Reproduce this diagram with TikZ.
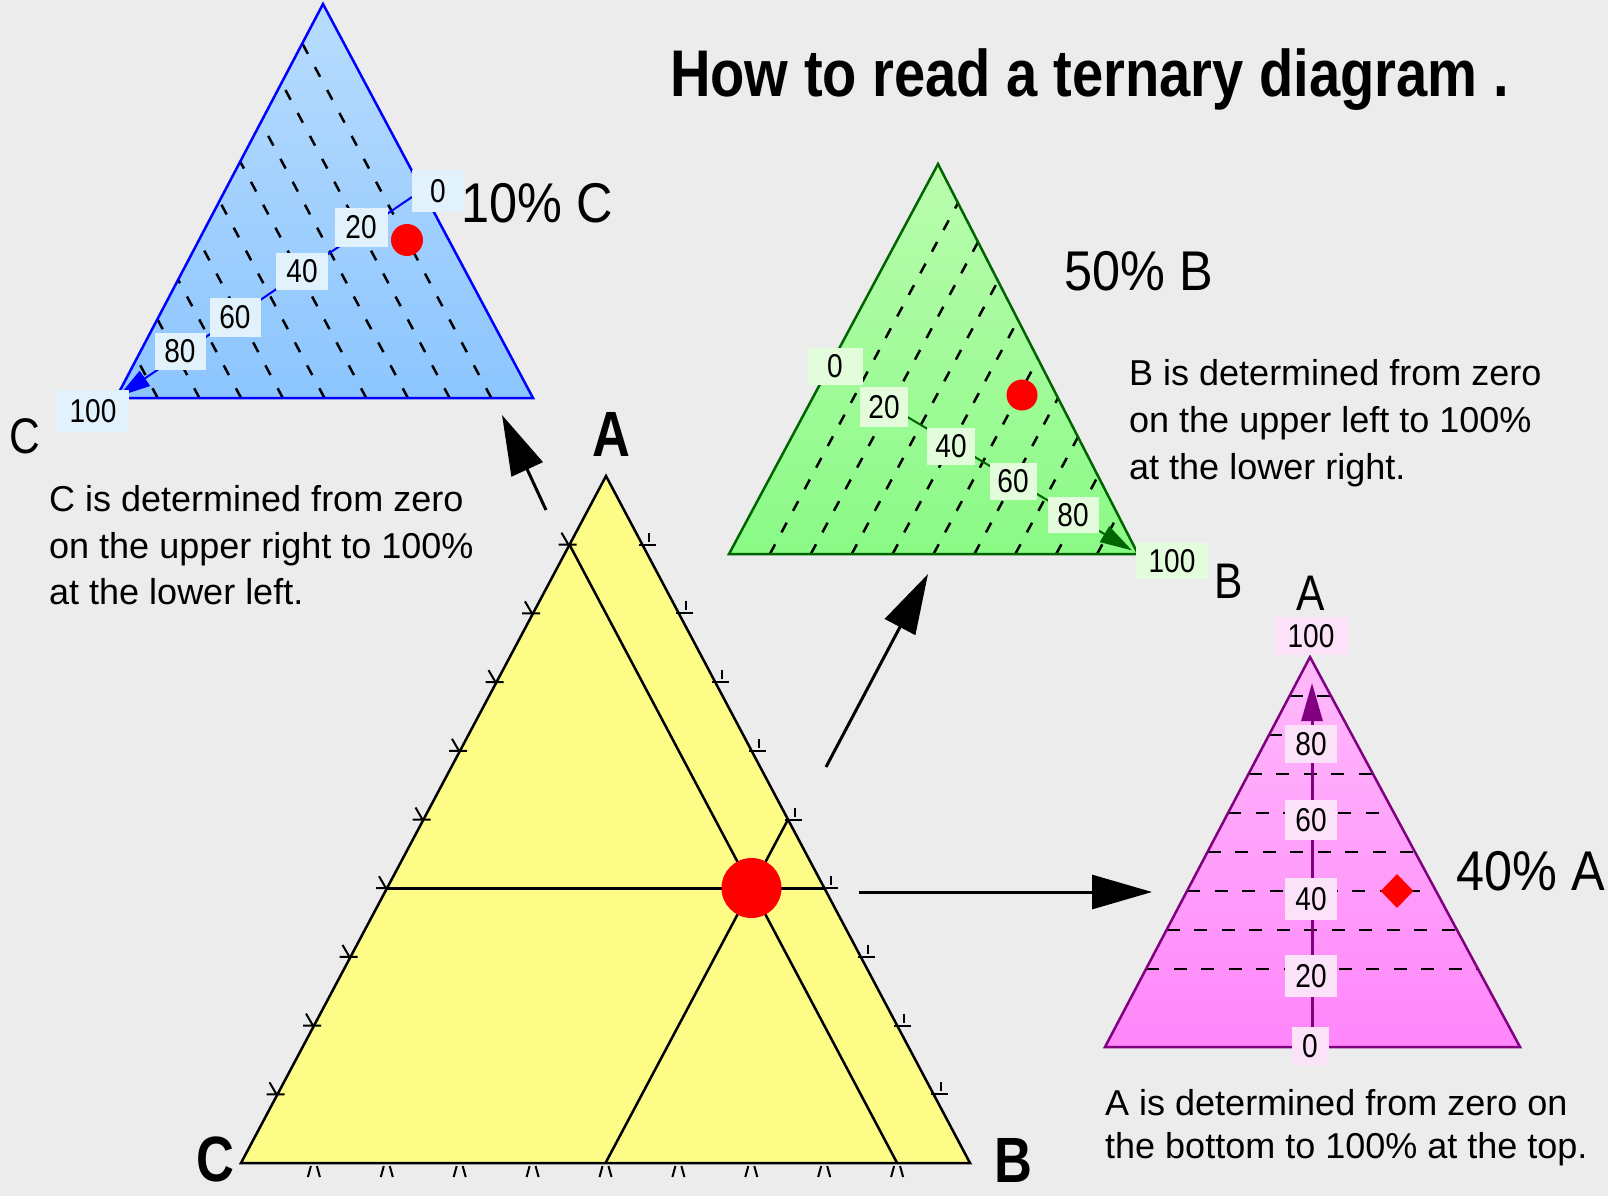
\documentclass[tikz,border=0pt]{standalone}
\usepackage{fontspec}
\setmainfont{Liberation Sans}
\newfontfamily\narrowsans[FakeStretch=0.85]{Liberation Sans}
\newfontfamily\pctsans[FakeStretch=0.9]{Liberation Sans}
\newfontfamily\slimsans[FakeStretch=0.82]{Liberation Sans}
\usetikzlibrary{arrows.meta,calc,shapes.geometric}
\definecolor{bgc}{RGB}{236,236,236}
\definecolor{blueTop}{RGB}{184,220,253}
\definecolor{blueBot}{RGB}{140,197,254}
\definecolor{blueLab}{RGB}{226,242,252}
\definecolor{blueEdge}{RGB}{0,0,255}
\definecolor{greenTop}{RGB}{186,252,174}
\definecolor{greenBot}{RGB}{138,250,134}
\definecolor{greenEdge}{RGB}{0,100,0}
\definecolor{greenLab}{RGB}{226,252,220}
\definecolor{pinkTop}{RGB}{255,186,252}
\definecolor{pinkBot}{RGB}{255,134,250}
\definecolor{pinkLab}{RGB}{252,226,248}
\definecolor{purpleEdge}{RGB}{128,0,128}
\definecolor{yel}{RGB}{253,252,135}
\definecolor{redDot}{RGB}{255,0,0}
\tikzset{
  lbl/.style={inner sep=0pt, font=\narrowsans\fontsize{33}{33}\selectfont},
  lblb/.style={lbl, fill=blueLab},
  lblg/.style={lbl, fill=greenLab},
  lblp/.style={lbl, fill=pinkLab},
  reddot/.style={circle, fill=redDot, inner sep=0pt},
  para/.style={anchor=base west, inner sep=0pt, font=\fontsize{36}{40}\selectfont},
  pct/.style={anchor=base west, inner sep=0pt, font=\pctsans\fontsize{56}{60}\selectfont},
  lightlet/.style={inner sep=0pt, font=\narrowsans\fontsize{50}{54}\selectfont},
  boldlet/.style={inner sep=0pt, font=\slimsans\bfseries\fontsize{64}{66}\selectfont},
  bigarrow/.style={line width=3pt, -{Triangle[length=60pt,width=34pt]}},
  ytick/.style={line width=2pt},
  cdash/.style={line width=2.5pt, dash pattern=on 11pt off 15pt},
  bdash/.style={line width=2.5pt, dash pattern=on 11pt off 13.5pt},
  adash/.style={line width=2.5pt, dash pattern=on 13pt off 14.5pt},
}
\begin{document}
\begin{tikzpicture}[x=1pt,y=-1pt]
\useasboundingbox (0,0) rectangle (1608,1196);
\fill[bgc] (0,0) rectangle (1608,1196);

% ---------------- blue triangle (C) ----------------
\coordinate (bC) at (116,398);
\coordinate (bR) at (533,398);
\coordinate (bA) at (323,4);
\shade[top color=blueTop, bottom color=blueBot] (bC) -- (bR) -- (bA) -- cycle;
\foreach \i in {1,...,9}{
  \draw[cdash] ($(bC)!\i/10!(bR)$) -- ($(bC)!\i/10!(bA)$);
}
\draw[blueEdge, line width=2.5pt, line join=miter] (bC) -- (bR) -- (bA) -- cycle;
\coordinate (b0) at (412,197);
\draw[blueEdge, line width=2pt, -{Triangle[length=32pt,width=18pt]}, shorten >=3pt] (b0) -- (bC);
\node[lblb, minimum width=52, minimum height=42] (bl0) at (438,191) {0};
\node[lblb, minimum width=53, minimum height=39] (bl20) at (361,227) {20};
\node[lblb, minimum width=52, minimum height=37] (bl40) at (302,271) {40};
\node[lblb, minimum width=51, minimum height=39] (bl60) at (235,317) {60};
\node[lblb, minimum width=51, minimum height=37] (bl80) at (180,351) {80};
\node[lblb, minimum width=72, minimum height=42] (bl100) at (93,411) {100};
\node[reddot, minimum size=32] (bdot) at (407,240) {};
\node[pct] (tenC) at (461,222) {10\% C};
\node[lightlet, anchor=base west] (labC) at (9,453) {C};

% ---------------- green triangle (B) ----------------
\coordinate (gL) at (729,554);
\coordinate (gR) at (1138,554);
\coordinate (gA) at (938,164);
\shade[top color=greenTop, bottom color=greenBot] (gL) -- (gR) -- (gA) -- cycle;
\foreach \i in {1,...,9}{
  \draw[bdash] ($(gL)!\i/10!(gR)$) -- ($(gA)!\i/10!(gR)$);
}
\draw[greenEdge, line width=2.5pt, line join=miter] (gL) -- (gR) -- (gA) -- cycle;
\coordinate (g0) at (862,390);
\draw[greenEdge, line width=2pt, -{Triangle[length=32pt,width=18pt]}, shorten >=7pt] (g0) -- (gR);
\node[lblg, minimum width=55, minimum height=37] (gl0) at (835,366) {0};
\node[lblg, minimum width=48, minimum height=40] (gl20) at (884,407) {20};
\node[lblg, minimum width=48, minimum height=37] (gl40) at (951,446) {40};
\node[lblg, minimum width=47, minimum height=37] (gl60) at (1013,481) {60};
\node[lblg, minimum width=51, minimum height=36] (gl80) at (1073,515) {80};
\node[lblg, minimum width=72, minimum height=36] (gl100) at (1172,561) {100};
\node[reddot, minimum size=31] (gdot) at (1022,395) {};
\node[pct] (fiftyB) at (1064,290) {50\% B};
\node[lightlet, anchor=base west] (labB) at (1214,598) {B};
\node[para] (bt1) at (1129,385) {B is determined from zero};
\node[para] (bt2) at (1129,432) {on the upper left to 100\%};
\node[para] (bt3) at (1129,479) {at the lower right.};

% ---------------- pink triangle (A) ----------------
\coordinate (pL) at (1105,1047);
\coordinate (pR) at (1520,1047);
\coordinate (pA) at (1310,657);
\shade[top color=pinkTop, bottom color=pinkBot] (pL) -- (pR) -- (pA) -- cycle;
\foreach \k in {2,...,9}{
  \draw[adash] ($(pL)!\k/10!(pA)$) -- ($(pR)!\k/10!(pA)$);
}
\draw[purpleEdge, line width=2.5pt, line join=miter] (pL) -- (pR) -- (pA) -- cycle;
\coordinate (p0) at (1312,1047);
\coordinate (p100) at (1312,683);
\draw[purpleEdge, line width=3pt, -{Triangle[length=38pt,width=21pt]}] (p0) -- (p100);
\node[lblp, minimum width=75, minimum height=38] (pl100) at (1311,636) {100};
\node[lblp, minimum width=52, minimum height=38] (pl80) at (1311,744) {80};
\node[lblp, minimum width=52, minimum height=40] (pl60) at (1311,820) {60};
\node[lblp, minimum width=52, minimum height=42] (pl40) at (1311,899) {40};
\node[lblp, minimum width=52, minimum height=42] (pl20) at (1311,976) {20};
\node[lblp, minimum width=37, minimum height=38] (pl0) at (1310,1046) {0};
\node[diamond, fill=redDot, inner sep=0pt, minimum width=33, minimum height=34] (pdot) at (1397,891) {};
\node[pct] (fortyA) at (1456,890) {40\% A};
\node[lightlet, anchor=base] (labA) at (1311,610) {A};
\node[para] (at1) at (1105,1115) {A is determined from zero on};
\node[para] (at2) at (1105,1158) {the bottom to 100\% at the top.};

% ---------------- yellow triangle ----------------
\coordinate (yC) at (241,1163);
\coordinate (yB) at (970,1163);
\coordinate (yA) at (606,476);
\fill[yel] (yC) -- (yB) -- (yA) -- cycle;
\draw[line width=3pt] ($(yC)!0.4!(yA)$) -- ($(yB)!0.4!(yA)$);
\draw[line width=2.5pt] ($(yA)!0.1!(yC)$) -- ($(yB)!0.1!(yC)$);
\draw[line width=2.5pt] ($(yC)!0.5!(yB)$) -- ($(yA)!0.5!(yB)$);
\draw[line width=2.5pt, line join=miter] (yC) -- (yB) -- (yA) -- cycle;
\foreach \k in {1,...,9}{
  \coordinate (tl) at ($(yC)!\k/10!(yA)$);
  \draw[ytick] ($(tl)+(-11,0)$) -- ($(tl)+(7,0)$) ($(tl)+(-8,-12)$) -- ($(tl)+(-1,0)$);
  \coordinate (tr) at ($(yB)!\k/10!(yA)$);
  \draw[ytick] ($(tr)+(-3,0)$) -- ($(tr)+(14,0)$) ($(tr)+(7,-12)$) -- ($(tr)+(7,-3)$);
  \coordinate (tb) at ($(yC)!\k/10!(yB)$);
  \draw[ytick] ($(tb)+(-3,3)$) -- ($(tb)+(-6,14)$) ($(tb)+(3,3)$) -- ($(tb)+(6,14)$);
}
\node[reddot, minimum size=60] (ydot) at (751.5,888) {};
\node[boldlet, anchor=base] (yAl) at (611,456) {A};
\node[boldlet, anchor=base] (yCl) at (215,1181) {C};
\node[boldlet, anchor=base] (yBl) at (1013,1182) {B};

\node[para] (ct1) at (49,511) {C is determined from zero};
\node[para] (ct2) at (49,558) {on the upper right to 100\%};
\node[para] (ct3) at (49,604) {at the lower left.};

% ---------------- connecting arrows ----------------
\coordinate (ya1) at (546,510);
\coordinate (ba) at (502,415);
\draw[bigarrow] (ya1) -- (ba);
\coordinate (ya2) at (826,767);
\coordinate (ga) at (928,574);
\draw[bigarrow] (ya2) -- (ga);
\coordinate (ya3) at (859,892);
\coordinate (pa) at (1152,892);
\draw[bigarrow] (ya3) -- (pa);

% ---------------- title ----------------
\node[anchor=base west, inner sep=0pt, font=\narrowsans\bfseries\fontsize{66}{70}\selectfont] (title) at (670,97) {How to read a ternary diagram .};
\end{tikzpicture}
\end{document}
